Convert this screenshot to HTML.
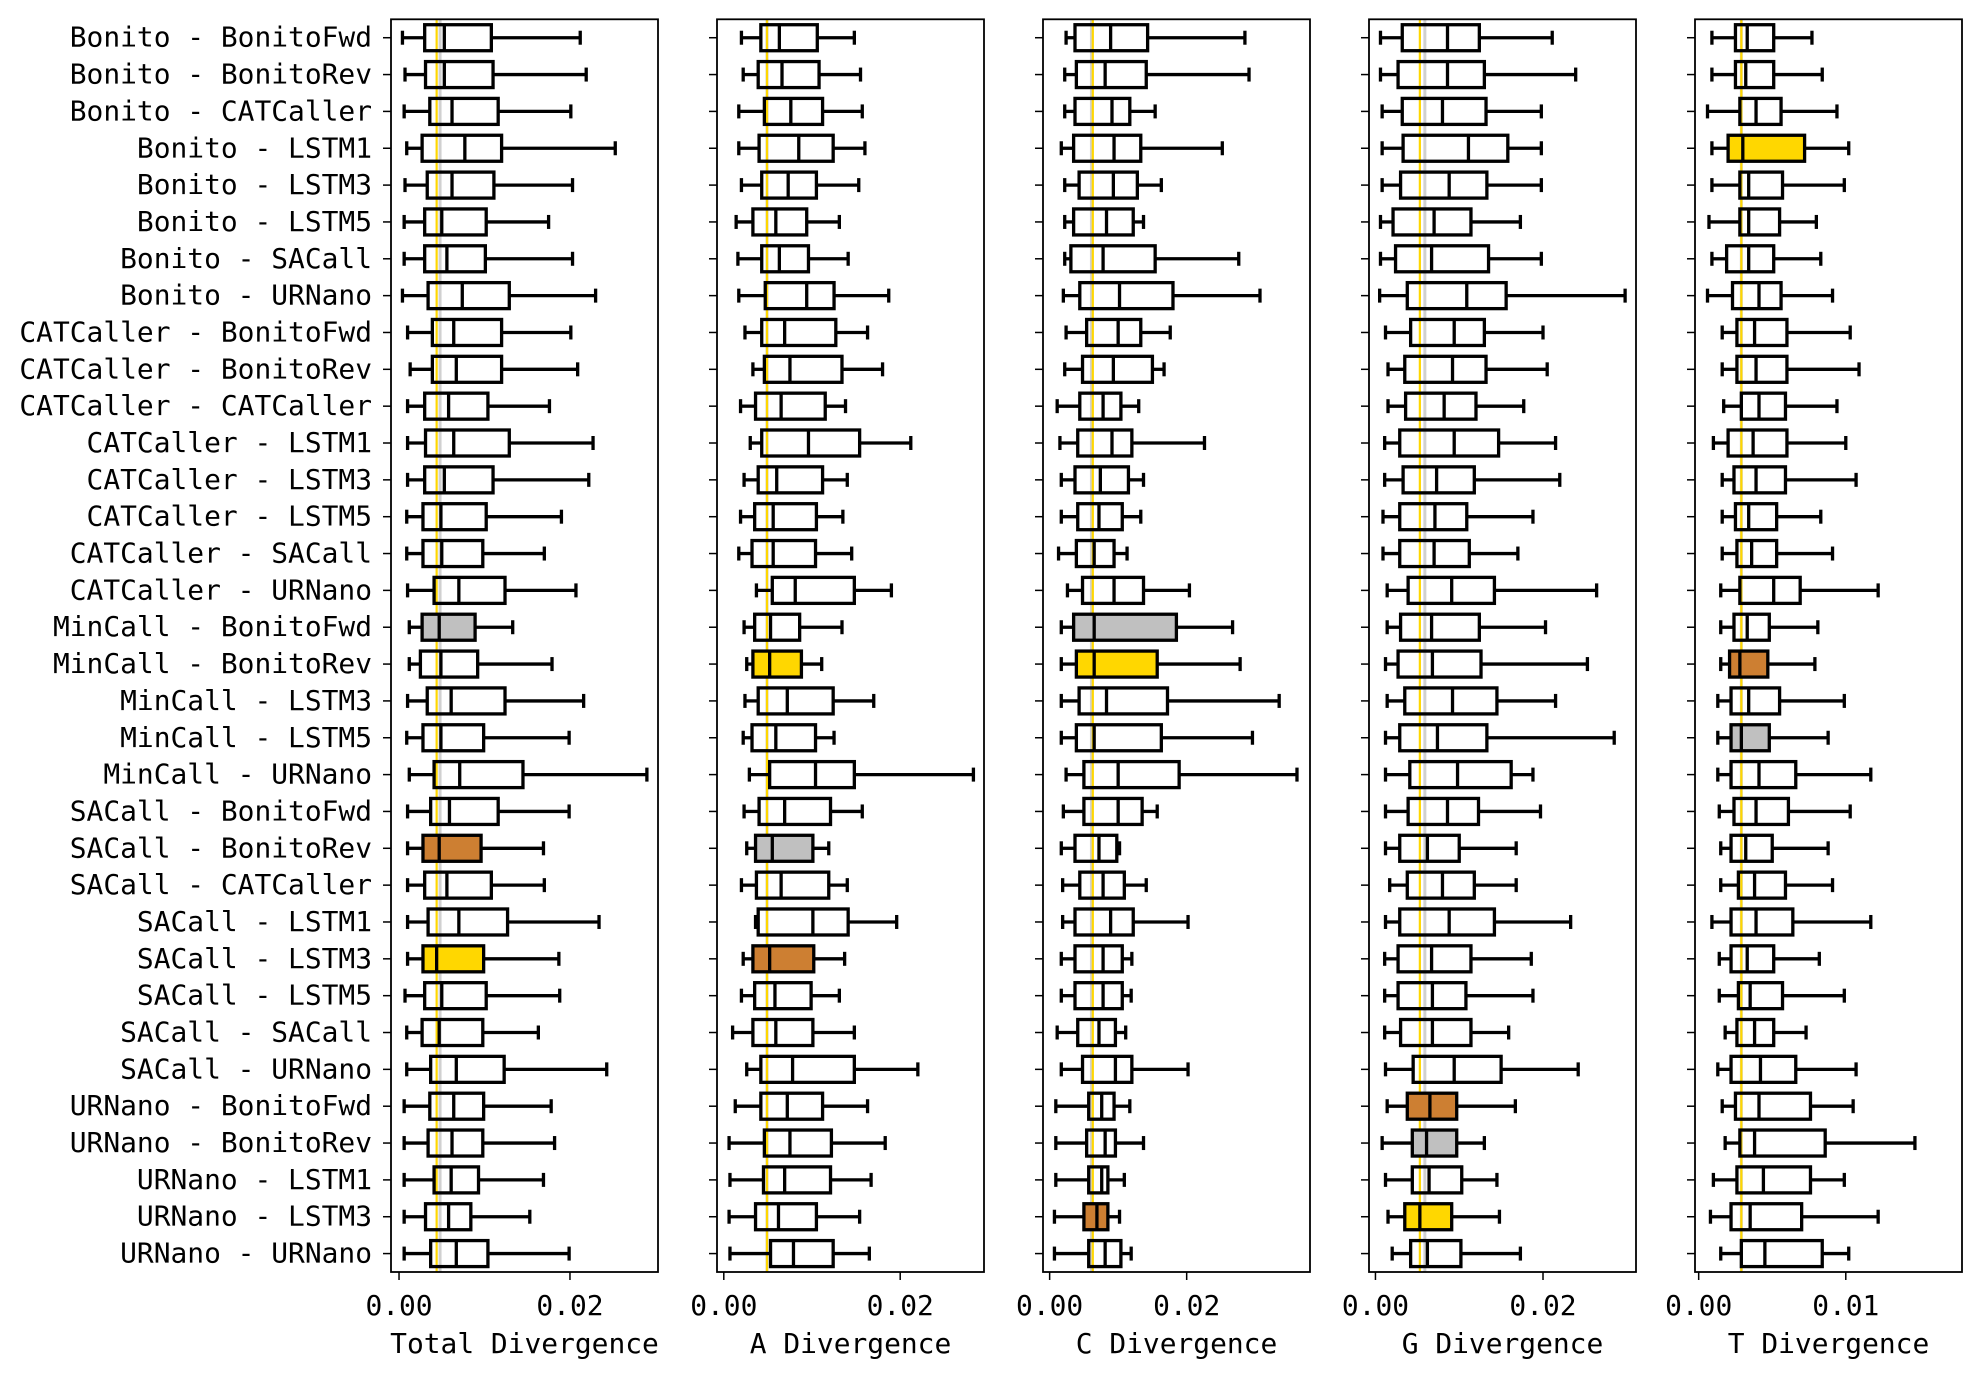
<!DOCTYPE html>
<html><head><meta charset="utf-8"><style>
html,body{margin:0;padding:0;background:#fff}
svg{display:block}
text{font-family:"DejaVu Sans Mono","Liberation Mono",monospace;font-size:27.9px;fill:#000}
</style></head><body>
<svg id="chart" width="1981" height="1380" viewBox="0 0 1981 1380" xmlns="http://www.w3.org/2000/svg"></svg>
<script>
const categories=["Bonito - BonitoFwd","Bonito - BonitoRev","Bonito - CATCaller","Bonito - LSTM1","Bonito - LSTM3","Bonito - LSTM5","Bonito - SACall","Bonito - URNano","CATCaller - BonitoFwd","CATCaller - BonitoRev","CATCaller - CATCaller","CATCaller - LSTM1","CATCaller - LSTM3","CATCaller - LSTM5","CATCaller - SACall","CATCaller - URNano","MinCall - BonitoFwd","MinCall - BonitoRev","MinCall - LSTM3","MinCall - LSTM5","MinCall - URNano","SACall - BonitoFwd","SACall - BonitoRev","SACall - CATCaller","SACall - LSTM1","SACall - LSTM3","SACall - LSTM5","SACall - SACall","SACall - URNano","URNano - BonitoFwd","URNano - BonitoRev","URNano - LSTM1","URNano - LSTM3","URNano - URNano"];
const panelTitles=["Total Divergence","A Divergence","C Divergence","G Divergence","T Divergence"];
// values in units of 1e-3: [whiskerLow, q1, median, q3, whiskerHigh]
const totalStats=[[0.4,3.0,5.3,10.8,21.2],[0.7,3.1,5.3,11.0,21.9],[0.6,3.6,6.2,11.6,20.1],[0.9,2.7,7.7,12.0,25.3],[0.7,3.3,6.2,11.1,20.3],[0.6,3.0,5.0,10.2,17.5],[0.6,3.0,5.6,10.1,20.3],[0.4,3.4,7.4,12.9,23.0],[1.0,3.9,6.4,12.0,20.1],[1.3,3.9,6.7,12.0,20.9],[1.0,3.0,5.8,10.4,17.6],[1.0,3.1,6.4,12.9,22.7],[1.0,3.0,5.3,11.0,22.2],[0.9,2.8,4.9,10.2,19.0],[0.9,2.8,5.0,9.8,17.0],[1.0,4.1,7.0,12.4,20.7],[1.2,2.7,4.7,8.9,13.3],[1.2,2.5,4.9,9.2,17.9],[1.0,3.3,6.1,12.4,21.6],[0.9,2.8,4.9,9.9,19.9],[1.2,4.1,7.1,14.5,29.0],[1.0,3.7,5.9,11.6,19.9],[1.0,2.8,4.7,9.6,16.9],[1.0,3.0,5.6,10.8,17.0],[1.0,3.4,7.0,12.7,23.4],[1.0,2.8,4.4,9.9,18.7],[0.7,3.0,5.0,10.2,18.8],[0.9,2.7,4.7,9.8,16.3],[0.9,3.7,6.7,12.3,24.3],[0.6,3.6,6.4,9.9,17.8],[0.6,3.4,6.2,9.8,18.2],[0.6,4.1,6.1,9.3,16.9],[0.6,3.1,5.8,8.4,15.3],[0.6,3.7,6.7,10.4,19.9]];
const aStats=[[2.0,4.2,6.3,10.6,14.8],[2.2,3.9,6.6,10.8,15.5],[1.7,4.6,7.6,11.2,15.7],[1.7,4.0,8.5,12.4,16.0],[2.0,4.3,7.3,10.5,15.3],[1.4,3.3,5.9,9.4,13.1],[1.6,4.3,6.3,9.6,14.1],[1.7,4.7,9.4,12.5,18.7],[2.4,4.3,6.9,12.7,16.3],[3.3,4.6,7.5,13.4,18.0],[1.9,3.6,6.5,11.5,13.8],[3.0,4.3,9.6,15.4,21.2],[2.3,3.9,6.0,11.2,14.0],[1.9,3.5,5.6,10.5,13.5],[1.7,3.2,5.6,10.4,14.5],[3.7,5.5,8.1,14.8,19.0],[2.3,3.5,5.3,8.6,13.4],[2.6,3.3,5.2,8.8,11.1],[2.4,3.9,7.2,12.4,17.0],[2.2,3.2,5.9,10.4,12.5],[2.9,5.2,10.4,14.8,28.3],[2.3,4.0,6.9,12.1,15.7],[2.6,3.6,5.5,10.1,11.9],[2.0,3.7,6.5,11.9,14.0],[3.6,3.9,10.1,14.1,19.6],[2.2,3.3,5.2,10.2,13.7],[2.0,3.5,5.8,9.9,13.1],[1.0,3.3,5.9,10.1,14.8],[2.6,4.2,7.8,14.8,22.0],[1.3,4.2,7.2,11.2,16.3],[0.6,4.6,7.5,12.2,18.3],[0.7,4.5,6.9,12.1,16.7],[0.6,3.6,6.2,10.5,15.4],[0.7,5.3,7.9,12.4,16.5]];
const cStats=[[2.4,3.7,8.9,14.3,28.5],[2.2,3.9,8.1,14.1,29.1],[2.2,3.7,9.1,11.7,15.4],[1.7,3.5,9.4,13.3,25.2],[2.2,4.3,9.3,12.8,16.3],[2.2,3.5,8.3,12.2,13.7],[2.2,3.1,7.8,15.4,27.6],[2.0,4.4,10.2,18.0,30.7],[2.4,5.4,10.0,13.3,17.6],[2.2,4.8,9.3,15.0,16.7],[1.1,4.4,7.8,10.4,13.0],[1.5,4.1,9.1,12.0,22.6],[1.7,3.7,7.4,11.5,13.7],[1.7,4.1,7.2,10.6,13.3],[1.3,3.9,6.5,9.4,11.3],[2.6,4.8,9.4,13.7,20.4],[1.7,3.5,6.5,18.5,26.7],[1.7,3.9,6.5,15.7,27.8],[1.7,4.3,8.3,17.2,33.5],[1.7,3.9,6.5,16.3,29.6],[2.4,5.0,10.0,18.9,36.1],[2.0,5.0,10.0,13.5,15.7],[1.7,3.7,7.2,9.8,10.2],[1.9,4.4,7.8,10.9,14.1],[1.9,3.7,8.9,12.2,20.2],[1.7,3.7,7.8,10.6,12.0],[1.7,3.7,7.8,10.6,11.9],[1.1,4.1,7.2,9.6,11.1],[1.7,4.8,9.6,12.0,20.2],[0.9,5.7,7.6,9.4,11.7],[0.9,5.4,8.1,9.6,13.7],[0.9,5.7,7.6,8.5,10.9],[0.7,5.0,6.9,8.5,10.2],[0.7,5.7,8.1,10.4,11.9]];
const gStats=[[0.6,3.2,8.6,12.4,21.1],[0.6,2.7,8.6,13.0,23.9],[0.8,3.2,8.0,13.2,19.8],[0.8,3.3,11.1,15.8,19.8],[0.8,3.0,8.8,13.3,19.8],[0.6,2.1,7.0,11.4,17.3],[0.6,2.4,6.7,13.5,19.8],[0.5,3.8,10.9,15.6,29.8],[1.2,4.2,9.4,13.0,20.0],[1.5,3.5,9.2,13.2,20.5],[1.5,3.6,8.2,12.0,17.7],[1.1,2.9,9.4,14.7,21.5],[1.1,3.3,7.3,11.8,22.0],[0.9,2.9,7.1,10.9,18.8],[0.9,2.9,7.0,11.2,17.0],[1.4,3.9,9.1,14.2,26.4],[1.4,3.0,6.7,12.4,20.3],[1.2,2.7,6.8,12.6,25.3],[1.4,3.5,9.2,14.5,21.5],[1.2,2.9,7.4,13.3,28.5],[1.2,4.1,9.8,16.2,18.8],[1.2,3.9,8.6,12.3,19.7],[1.2,2.9,6.2,10.0,16.8],[1.7,3.8,8.0,11.8,16.8],[1.2,2.9,8.8,14.2,23.3],[1.1,2.7,6.7,11.4,18.6],[1.1,2.7,6.8,10.8,18.8],[1.1,3.0,6.8,11.4,15.9],[1.2,4.5,9.4,15.0,24.2],[1.4,3.8,6.5,9.7,16.7],[0.8,4.4,6.1,9.7,13.0],[1.2,4.4,6.4,10.3,14.5],[1.5,3.5,5.3,9.1,14.8],[2.0,4.2,6.2,10.2,17.3]];
const tStats=[[0.9,2.5,3.3,5.1,7.7],[0.9,2.5,3.2,5.1,8.4],[0.6,2.8,3.9,5.6,9.4],[0.9,2.0,3.0,7.2,10.2],[0.9,2.8,3.4,5.7,9.9],[0.7,2.8,3.4,5.5,8.0],[0.9,1.9,3.4,5.1,8.3],[0.6,2.3,4.1,5.6,9.1],[1.6,2.6,3.8,6.0,10.3],[1.6,2.6,3.9,6.0,10.9],[1.7,2.9,4.1,5.9,9.4],[1.0,2.0,3.7,6.0,10.0],[1.6,2.4,3.9,5.9,10.7],[1.6,2.5,3.4,5.3,8.3],[1.6,2.6,3.6,5.3,9.1],[1.5,2.8,5.1,6.9,12.2],[1.5,2.4,3.3,4.8,8.1],[1.5,2.1,2.8,4.7,7.9],[1.3,2.2,3.4,5.5,9.9],[1.3,2.2,2.9,4.8,8.8],[1.3,2.2,4.1,6.6,11.7],[1.4,2.4,3.9,6.1,10.3],[1.5,2.2,3.2,5.0,8.8],[1.5,2.7,3.8,5.9,9.1],[0.9,2.2,3.9,6.4,11.7],[1.4,2.2,3.3,5.1,8.2],[1.4,2.7,3.5,5.7,9.9],[1.8,2.6,3.8,5.1,7.3],[1.3,2.2,4.2,6.6,10.7],[1.6,2.5,4.1,7.6,10.5],[1.8,2.8,3.8,8.6,14.7],[1.0,2.6,4.4,7.6,9.9],[0.8,2.2,3.5,7.0,12.2],[1.5,2.9,4.5,8.4,10.2]];
// medal rows per panel [gold, silver, bronze]
const medalRows=[[25,16,22],[17,22,25],[17,16,32],[32,30,29],[3,19,17]];
// reference lines (1e-3) [gold, silver]
const refLines=[[4.4,4.8],[4.9,4.9],[6.3,6.1],[5.3,5.9],[2.9,2.9]];
const xMin=[-0.94,-0.77,-0.97,-0.77,-0.25];
const xMax=[30.3,29.5,38.0,31.1,17.9];
const xTicks=[[0,20],[0,20],[0,20],[0,20],[0,10]];
const xTickLabels=[["0.00","0.02"],["0.00","0.02"],["0.00","0.02"],["0.00","0.02"],["0.00","0.01"]];

const allStats=[totalStats,aStats,cStats,gStats,tStats];
const svg=document.getElementById('chart');
const NS='http://www.w3.org/2000/svg';
const panelLeft=[391,717,1043,1369,1695], panelW=267, plotTop=19.3, plotBottom=1272;
const rowH=(plotBottom-plotTop)/categories.length;
const medalColors=['#FFD700','#C0C0C0','#CD7F32'];
function mk(tag,attrs,parent){const e=document.createElementNS(NS,tag);for(const k in attrs)e.setAttribute(k,attrs[k]);(parent||svg).appendChild(e);return e;}
function yPos(i){return plotTop+(i+0.5)*rowH;}

for(let p=0;p<5;p++){
  const g=mk('g',{});
  
  
  const L=panelLeft[p];
  const xs=v=>L+(v-xMin[p])/(xMax[p]-xMin[p])*panelW;
  const rl1=mk('line',{x1:xs(refLines[p][1]),x2:xs(refLines[p][1]),y1:plotTop,y2:plotBottom,stroke:'#b0b0b0','stroke-width':3,'stroke-opacity':0.6},g);
  
  
  const rl0=mk('line',{x1:xs(refLines[p][0]),x2:xs(refLines[p][0]),y1:plotTop,y2:plotBottom,stroke:'#FFD700','stroke-width':2.2},g);
  
  
  const st=allStats[p];
  for(let i=0;i<st.length;i++){
    const [lo,q1,md,q3,hi]=st[i];const y=yPos(i);const bh=26,ch=14;
    const bg=mk('g',{},g);
    
    
    let fill='none';const m=medalRows[p].indexOf(i);if(m>=0)fill=medalColors[m];
    mk('line',{x1:xs(lo),x2:xs(q1),y1:y,y2:y,stroke:'#000','stroke-width':3.3},bg);
    mk('line',{x1:xs(q3),x2:xs(hi),y1:y,y2:y,stroke:'#000','stroke-width':3.3},bg);
    mk('line',{x1:xs(lo),x2:xs(lo),y1:y-ch/2,y2:y+ch/2,stroke:'#000','stroke-width':3.3},bg);
    mk('line',{x1:xs(hi),x2:xs(hi),y1:y-ch/2,y2:y+ch/2,stroke:'#000','stroke-width':3.3},bg);
    mk('rect',{x:xs(q1),y:y-bh/2,width:xs(q3)-xs(q1),height:bh,fill:fill,stroke:'#000','stroke-width':3.3},bg);
    mk('line',{x1:xs(md),x2:xs(md),y1:y-bh/2,y2:y+bh/2,stroke:'#000','stroke-width':3.3},bg);
    mk('line',{x1:L-8,x2:L,y1:y,y2:y,stroke:'#000','stroke-width':1.5},g);
    if(p===0){
      const t=mk('text',{x:L-19,y:y+9,'text-anchor':'end'},g);
      t.textContent=categories[i];
      
      
    }
  }
  const fr=mk('rect',{x:L,y:plotTop,width:panelW,height:plotBottom-plotTop,fill:'none',stroke:'#000','stroke-width':1.8},g);
  
  
  for(let k=0;k<xTicks[p].length;k++){
    const x=xs(xTicks[p][k]);
    mk('line',{x1:x,x2:x,y1:plotBottom,y2:plotBottom+8,stroke:'#000','stroke-width':1.5},g);
    const t=mk('text',{x:x,y:plotBottom+43,'text-anchor':'middle'},g);
    t.textContent=xTickLabels[p][k];
    
    
  }
  const tt=mk('text',{x:L+panelW/2,y:1353,'text-anchor':'middle'},g);
  tt.textContent=panelTitles[p];
  
  
}
</script>
</body></html>
